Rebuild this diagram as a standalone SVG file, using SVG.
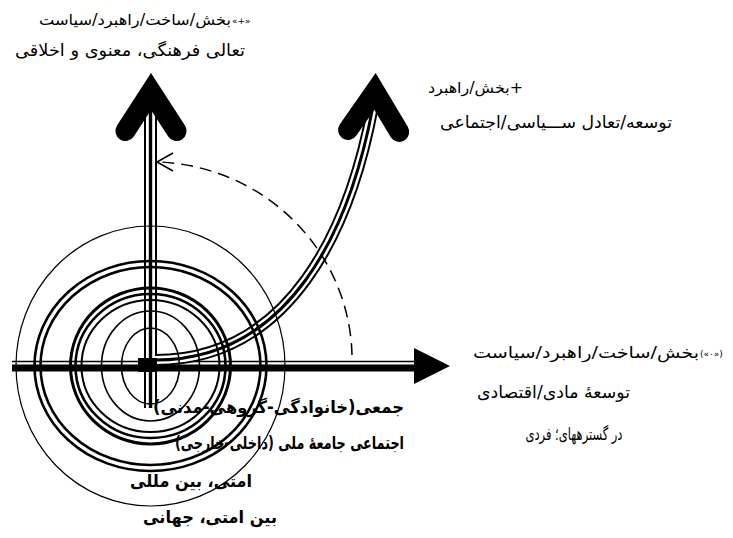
<svg xmlns="http://www.w3.org/2000/svg" width="733" height="538" viewBox="0 0 733 538">
<style>
.ring{fill:none;stroke:#000}
.t{font-family:"DejaVu Sans",sans-serif;fill:#000}
.m{text-anchor:middle}
.e{text-anchor:end}
.s{text-anchor:start}
.b{font-weight:bold}
</style>
<rect width="733" height="538" fill="#fff"/>
<g id="connectors">
  <g id="h-shaft">
    <line x1="12" y1="361.5" x2="416" y2="361.5" stroke="#000" stroke-width="1.6"/>
    <line x1="12" y1="368" x2="416" y2="368" stroke="#000" stroke-width="7"/>
    <polygon points="414,348 450,366 414,384" fill="#000"/>
  </g>
  <g id="v-shaft">
    <line x1="150.5" y1="105" x2="150.5" y2="408" stroke="#000" stroke-width="13"/>
    <line x1="150.5" y1="105" x2="150.5" y2="408" stroke="#fff" stroke-width="9"/>
    <line x1="150.5" y1="105" x2="150.5" y2="408" stroke="#000" stroke-width="3.4"/>
  </g>
  <g id="curve">
    <path d="M155,360 C290,360 350,230 373,106" fill="none" stroke="#000" stroke-width="12"/>
    <path d="M155,360 C290,360 350,230 373,106" fill="none" stroke="#fff" stroke-width="8"/>
    <path d="M155,360 C290,360 350,230 373,106" fill="none" stroke="#000" stroke-width="3"/>
  </g>
  <g id="rings">
    <ellipse class="ring" cx="150.5" cy="366" rx="134.5" ry="140" stroke-width="1.2"/>
    <ellipse class="ring" cx="150.5" cy="366" rx="116" ry="105" stroke-width="2.6"/>
    <ellipse class="ring" cx="150.5" cy="366" rx="110" ry="99" stroke-width="2.6"/>
    <ellipse class="ring" cx="150.5" cy="366" rx="80" ry="78" stroke-width="3"/>
    <ellipse class="ring" cx="150.5" cy="366" rx="75" ry="72" stroke-width="2.6"/>
    <ellipse class="ring" cx="150.5" cy="366" rx="69" ry="66" stroke-width="2"/>
    <ellipse class="ring" cx="150.5" cy="366" rx="49" ry="55" stroke-width="1.6"/>
    <ellipse class="ring" cx="150.5" cy="366" rx="29" ry="38" stroke-width="1.6"/>
  </g>
  <rect x="138" y="358" width="19" height="14" fill="#000"/>
  <g id="heads">
    <polyline points="125.4,131 151,91.5 176.6,131" fill="none" stroke="#000" stroke-width="20" stroke-linejoin="miter" stroke-miterlimit="10" stroke-linecap="round"/>
    <polyline points="349.4,131 375,91.5 400.6,131" fill="none" stroke="#000" stroke-width="20" stroke-linejoin="miter" stroke-miterlimit="10" stroke-linecap="round" transform="rotate(2 375 92)"/>
  </g>
  <g id="rotation">
    <path d="M352,355 A202,198 0 0 0 160,162" fill="none" stroke="#000" stroke-width="1.5" stroke-dasharray="12 7"/>
    <polyline points="173,153 157,162 173,171" fill="none" stroke="#000" stroke-width="1.5"/>
  </g>
</g>
<g id="label-up">
  <text class="t e" x="231" y="25" font-size="15" textLength="192" lengthAdjust="spacingAndGlyphs">بخش/ساخت/راهبرد/سیاست</text>
  <text class="t s" x="232" y="24" font-size="9" direction="ltr">«+»</text>
  <text class="t m" x="130" y="56" font-size="17" textLength="230" lengthAdjust="spacingAndGlyphs">تعالی فرهنگی، معنوی و اخلاقی</text>
</g>
<g id="label-curve">
  <text class="t m" x="475.5" y="93" font-size="15" textLength="95" lengthAdjust="spacingAndGlyphs" direction="rtl">+بخش/راهبرد</text>
  <text class="t m" x="556" y="128" font-size="17" textLength="232" lengthAdjust="spacingAndGlyphs">توسعه/تعادل ســـیاسی/اجتماعی</text>
</g>
<g id="label-right">
  <text class="t e" x="699" y="358" font-size="16" textLength="226" lengthAdjust="spacingAndGlyphs">بخش/ساخت/راهبرد/سیاست</text>
  <text class="t s" x="700" y="357" font-size="9" direction="ltr">(«۰»)</text>
  <text class="t m" x="553.5" y="398" font-size="17" textLength="153" lengthAdjust="spacingAndGlyphs">توسعهٔ مادی/اقتصادی</text>
  <text class="t m" x="574" y="440" font-size="17" textLength="97" lengthAdjust="spacingAndGlyphs">در گسترههای؛ فردی</text>
</g>
<g id="label-rings">
  <text class="t e b" x="404" y="413" font-size="17" textLength="251" lengthAdjust="spacingAndGlyphs">جمعی(خانوادگی-گروهی-مدنی)</text>
  <text class="t e b" x="404" y="449" font-size="17.5" textLength="229" lengthAdjust="spacingAndGlyphs">اجتماعی جامعهٔ ملی (داخلی-خارجی)</text>
  <text class="t m b" x="191" y="487" font-size="17" textLength="122" lengthAdjust="spacingAndGlyphs">امتی، بین مللی</text>
  <text class="t m b" x="210" y="523" font-size="17" textLength="134" lengthAdjust="spacingAndGlyphs">بین امتی، جهانی</text>
</g>
</svg>
